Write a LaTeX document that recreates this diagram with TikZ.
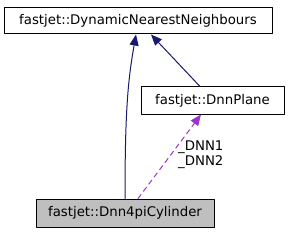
\documentclass[tikz,border=0pt]{standalone}
\usepackage{fontspec}
\setmainfont{DejaVu Sans}
\usetikzlibrary{arrows.meta}
\definecolor{edgeblue}{HTML}{191970}
\definecolor{edgepurple}{HTML}{9A32CD}
\definecolor{nodegray}{HTML}{BFBFBF}

\begin{document}
\begin{tikzpicture}[line cap=round,line join=round,x=1pt,y=-1pt,
	font=\fontsize{13.3}{15}\selectfont,
	classbox/.style={draw,line width=1pt,inner sep=0pt,minimum height=26pt},
	inherit/.style={edgeblue,line width=1pt,-{Triangle[length=11pt,width=9pt]}},
	uses/.style={edgepurple,line width=1pt,dash pattern=on 5pt off 4pt,-{Triangle[length=11pt,width=9pt]}}]
	\useasboundingbox (0,0) rectangle (288,232);
	
	\node[classbox,minimum width=268pt] (dnn) at (138,21) {fastjet::DynamicNearestNeighbours};
	\node[classbox,minimum width=143pt,minimum height=27pt] (plane) at (212.5,100.5) {fastjet::DnnPlane};
	\node[classbox,fill=nodegray,minimum width=178pt,minimum height=28pt] (cyl) at (125,213) {fastjet::Dnn4piCylinder};
	
	%% inheritance
	\draw[inherit] (cyl.north) .. controls (125,110) and (128,80) .. ([xshift=-2pt]dnn.south);
	\draw[inherit] ([xshift=-12.5pt]plane.north) -- ([xshift=13pt]dnn.south);
	
	%% members
	\draw[uses] ([xshift=13pt]cyl.north) -- ([xshift=-11.5pt]plane.south);
	\node[anchor=west,align=left,inner sep=0pt] (dnnlab) at (178,155) {\_DNN1\\\_DNN2};
\end{tikzpicture}
\end{document}
